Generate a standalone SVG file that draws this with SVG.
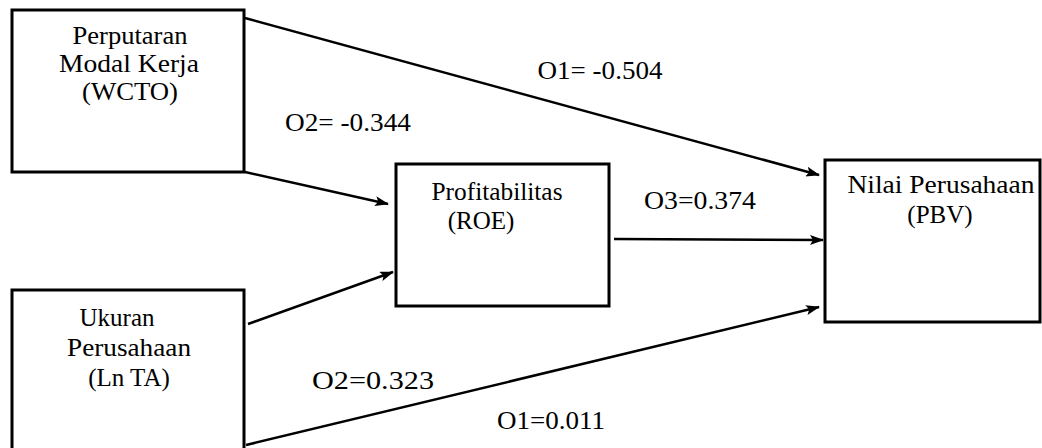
<svg xmlns="http://www.w3.org/2000/svg" width="1042" height="448" viewBox="0 0 1042 448">
<style>
.box{fill:#fff;stroke:#000;stroke-width:3}
text{font-family:"Liberation Serif","DejaVu Serif",serif;font-size:25px;fill:#000;text-anchor:middle}
.c{stroke:#000;stroke-width:2.5;fill:none;marker-end:url(#ah)}
</style>
<defs>
<marker id="ah" viewBox="0 0 14 10" refX="13" refY="5" markerWidth="14" markerHeight="10" markerUnits="userSpaceOnUse" orient="auto">
<path d="M0,0 L14,5 L0,10 L3,5 Z" fill="#000"/>
</marker>
</defs>
<g id="connectors">
<path class="c" d="M245,18 L819,175"/>
<path class="c" d="M245,172 L388,204"/>
<path class="c" d="M248,324 L393,272"/>
<path class="c" d="M614,239 L823,240"/>
<path class="c" d="M246,445 L819,307"/>
</g>
<g id="wcto">
<rect class="box" x="12" y="10" width="232" height="162"/>
<text x="130" y="44" textLength="115" lengthAdjust="spacingAndGlyphs">Perputaran</text>
<text x="129" y="72" textLength="140" lengthAdjust="spacingAndGlyphs">Modal Kerja</text>
<text x="130" y="100" textLength="96" lengthAdjust="spacingAndGlyphs">(WCTO)</text>
</g>
<g id="lnta">
<rect class="box" x="12" y="290" width="232" height="170"/>
<text x="117" y="326">Ukuran</text>
<text x="129" y="356" textLength="124" lengthAdjust="spacingAndGlyphs">Perusahaan</text>
<text x="129" y="386">(Ln TA)</text>
</g>
<g id="roe">
<rect class="box" x="396" y="164" width="213" height="142"/>
<text x="497" y="200" textLength="131" lengthAdjust="spacingAndGlyphs">Profitabilitas</text>
<text x="481" y="229">(ROE)</text>
</g>
<g id="pbv">
<rect class="box" x="825" y="160" width="215" height="162"/>
<text x="941" y="193" textLength="187" lengthAdjust="spacingAndGlyphs">Nilai Perusahaan</text>
<text x="940" y="223">(PBV)</text>
</g>
<g id="labels">
<text x="600" y="79" textLength="125" lengthAdjust="spacingAndGlyphs">O1= -0.504</text>
<text x="348" y="131" textLength="126" lengthAdjust="spacingAndGlyphs">O2= -0.344</text>
<text x="700" y="209" textLength="112" lengthAdjust="spacingAndGlyphs">O3=0.374</text>
<text x="373" y="389" textLength="122" lengthAdjust="spacingAndGlyphs">O2=0.323</text>
<text x="551" y="429" textLength="108" lengthAdjust="spacingAndGlyphs">O1=0.011</text>
</g>
</svg>
